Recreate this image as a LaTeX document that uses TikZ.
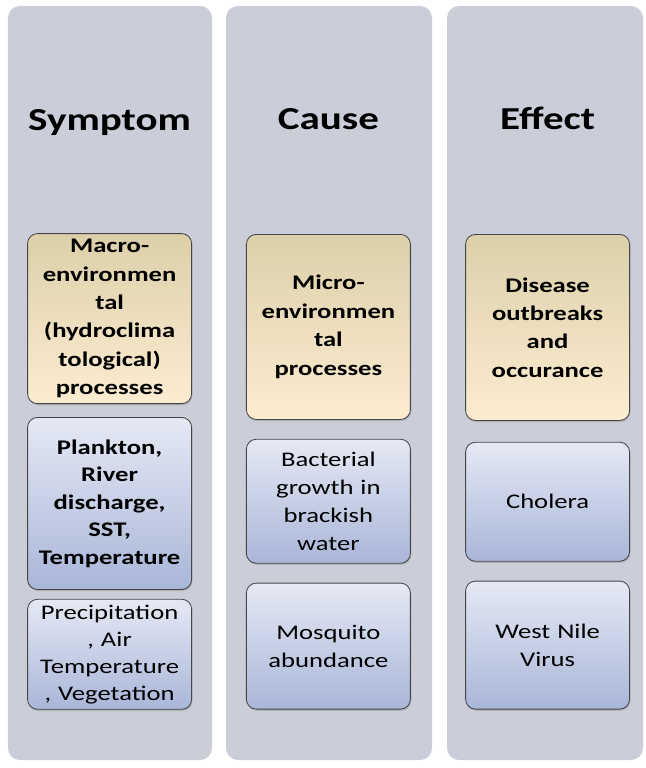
\documentclass[tikz,border=0pt]{standalone}
\usepackage{fontspec}
\setmainfont{Carlito}[FakeStretch=1.28]
\usetikzlibrary{positioning, shadows}
\definecolor{colbg}{RGB}{203,206,217}
\definecolor{tantop}{RGB}{220,208,170}
\definecolor{tanbot}{RGB}{252,236,209}
\definecolor{bluetop}{RGB}{230,233,244}
\definecolor{bluebot}{RGB}{168,182,217}
\definecolor{boxedge}{RGB}{70,70,70}
\tikzset{
    column/.style={fill=colbg, rounded corners=8.5pt, minimum width=#1, minimum height=18.85cm, inner sep=0pt},
    head/.style={font=\fontsize{22.8}{27}\selectfont\bfseries, anchor=base},
    box/.style={draw=boxedge, line width=0.6pt, rounded corners=7pt, align=center, inner sep=2pt,
                text width=3.9cm, minimum width=4.1cm, font=\fontsize{14.8}{20}\selectfont,
                drop shadow={shadow xshift=0.6pt, shadow yshift=-1.2pt, opacity=0.35}},
    tanbox/.style={box, top color=tantop, bottom color=tanbot, font=\fontsize{14.8}{20.2}\selectfont\bfseries},
    bluebox/.style={box, top color=bluetop, bottom color=bluebot},
}

\begin{document}
\begin{tikzpicture}
    \useasboundingbox (0,0) rectangle (16.15,-19.2);
    % columns
    \node[column=5.1cm] (sym) at (2.75,-9.575) {};
    \node[column=5.15cm] (cau) at (8.225,-9.575) {};
    \node[column=4.9cm] (eff) at (13.625,-9.575) {};
    \node[head] (symh) at (2.74,-3.27) {Symptom};
    \node[head] (cauh) at (8.21,-3.25) {Cause};
    \node[head] (effh) at (13.69,-3.25) {Effect};
    % symptom
    \node[tanbox, anchor=north, minimum height=4.25cm] (mac) at (2.74,-5.83)
        {Macro-\\environmen\\tal\\(hydroclima\\tological)\\processes};
    \node[bluebox, below=0.325cm of mac, minimum height=4.3cm, font=\fontsize{14.8}{19.6}\selectfont\bfseries] (plk)
        {Plankton,\\River\\discharge,\\SST,\\Temperature};
    \node[bluebox, below=0.225cm of plk, minimum height=2.75cm, font=\fontsize{14.8}{19.2}\selectfont] (pre)
        {Precipitation\\, Air\\Temperature\\, Vegetation};
    % cause
    \node[tanbox, anchor=north, minimum height=4.625cm] (mic) at (8.21,-5.85)
        {Micro-\\environmen\\tal\\processes};
    \node[bluebox, below=0.475cm of mic, minimum height=3.1cm] (bac)
        {Bacterial\\growth in\\brackish\\water};
    \node[bluebox, below=0.475cm of bac, minimum height=3.15cm] (mos)
        {Mosquito\\abundance};
    % effect
    \node[tanbox, anchor=north, minimum height=4.65cm] (dis) at (13.69,-5.85)
        {Disease\\outbreaks\\and\\occurance};
    \node[bluebox, below=0.525cm of dis, minimum height=2.975cm] (cho) {Cholera};
    \node[bluebox, below=0.475cm of cho, minimum height=3.2cm] (wnv) {West Nile\\Virus};
\end{tikzpicture}
\end{document}
